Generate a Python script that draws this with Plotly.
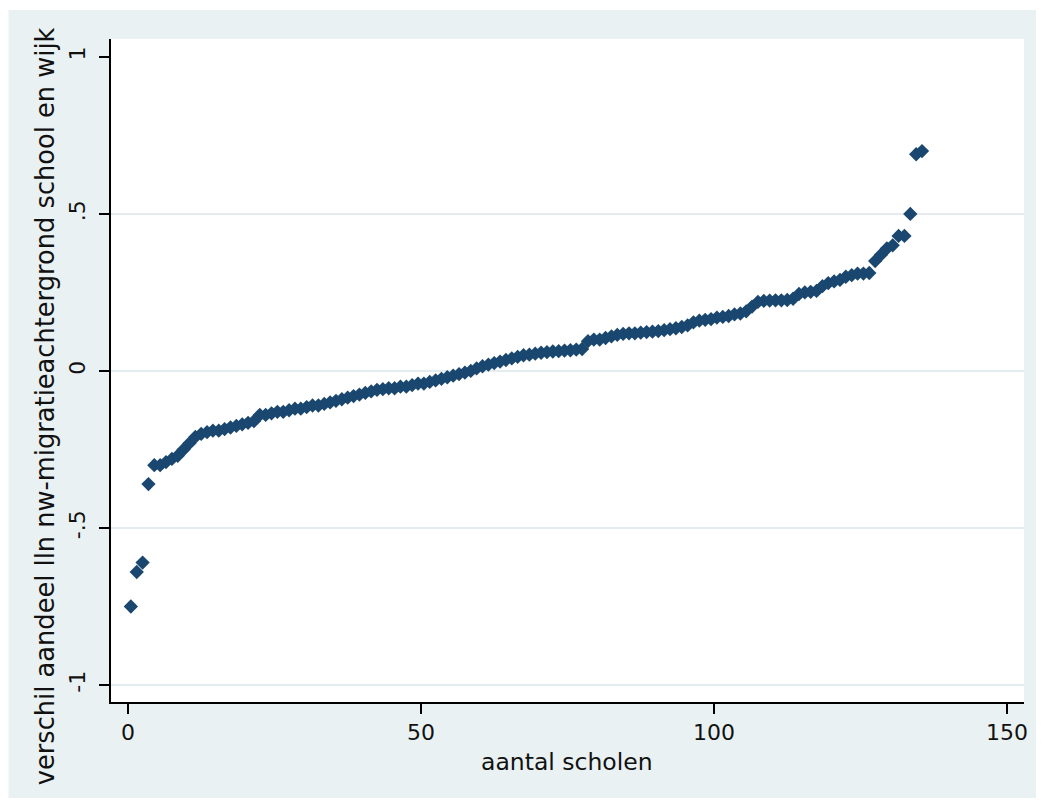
import plotly.graph_objects as go

# rank position of each school (x) and difference in share (y)
x_vals = [i + 0.5 for i in range(136)]
y_vals = [
    -0.75, -0.64, -0.61, -0.36, -0.30, -0.30, -0.29, -0.28, -0.27, -0.25,
    -0.23, -0.21, -0.20, -0.195, -0.19, -0.19, -0.185, -0.18, -0.175, -0.17,
    -0.165, -0.16, -0.14, -0.14, -0.135, -0.13, -0.13, -0.125, -0.12, -0.12,
    -0.115, -0.11, -0.11, -0.105, -0.10, -0.095, -0.09, -0.085, -0.08, -0.075,
    -0.07, -0.065, -0.06, -0.058, -0.055, -0.055, -0.05, -0.05, -0.045, -0.04,
    -0.04, -0.035, -0.03, -0.025, -0.02, -0.015, -0.01, -0.005, 0.0, 0.008,
    0.015, 0.02, 0.025, 0.03, 0.035, 0.04, 0.045, 0.05, 0.052, 0.055,
    0.058, 0.06, 0.062, 0.063, 0.065, 0.066, 0.068, 0.07, 0.095, 0.10,
    0.10, 0.105, 0.11, 0.115, 0.118, 0.12, 0.12, 0.122, 0.124, 0.125,
    0.127, 0.13, 0.133, 0.136, 0.14, 0.145, 0.155, 0.16, 0.163, 0.165,
    0.17, 0.172, 0.175, 0.18, 0.183, 0.19, 0.205, 0.22, 0.223, 0.224,
    0.225, 0.225, 0.226, 0.23, 0.245, 0.25, 0.252, 0.255, 0.27, 0.28,
    0.285, 0.29, 0.30, 0.305, 0.31, 0.31, 0.312, 0.35, 0.37, 0.39,
    0.40, 0.43, 0.43, 0.50, 0.69, 0.70,
]

x_ticks = [0, 50, 100, 150]
y_ticks = [-1, -0.5, 0, 0.5, 1]
y_ticktext = ["-1", "-.5", "0", ".5", "1"]
y_grid = [-1, -0.5, 0, 0.5]

x_title = "aantal scholen"
y_title = "verschil aandeel lln nw-migratieachtergrond school en wijk"

BG = "#EAF1F3"
GRID = "#E4ECEF"
NAVY = "#1A476F"
FONT = "DejaVu Sans, Arial, sans-serif"
TXT = "#111111"

fig = go.Figure()
fig.add_trace(go.Scatter(
    x=x_vals, y=y_vals, mode="markers",
    marker=dict(symbol="diamond", size=11, color=NAVY, line=dict(width=0)),
    showlegend=False,
))

shapes = [
    dict(type="rect", xref="paper", yref="paper",
         x0=-0.1123, x1=1.0131, y0=-0.1478, y1=1.0437,
         fillcolor=BG, line=dict(width=0), layer="below"),
    dict(type="rect", xref="paper", yref="paper",
         x0=0, x1=1, y0=0, y1=1,
         fillcolor="white", line=dict(width=0), layer="below"),
]
for g in y_grid:
    shapes.append(dict(type="line", xref="paper", yref="y",
                       x0=0, x1=1, y0=g, y1=g,
                       line=dict(color=GRID, width=2), layer="below"))

fig.update_layout(
    width=1028, height=790,
    margin=dict(l=103, r=8, t=31, b=96),
    paper_bgcolor="white", plot_bgcolor="white",
    font=dict(family=FONT, color=TXT),
    shapes=shapes,
    xaxis=dict(
        range=[-2.89, 152.9], tickvals=x_ticks, ticks="outside",
        ticklen=10, tickwidth=1.5, tickcolor="black",
        showline=True, linecolor="black", linewidth=1.5,
        showgrid=False, zeroline=False,
        tickfont=dict(size=22, family=FONT, color=TXT),
    ),
    yaxis=dict(
        range=[-1.054, 1.057], tickvals=y_ticks, ticktext=y_ticktext,
        ticks="outside", ticklen=10, tickwidth=1.5, tickcolor="black",
        showline=True, linecolor="black", linewidth=1.5,
        showgrid=False, zeroline=False, tickangle=-90,
        ticklabelstandoff=5,
        tickfont=dict(size=22, family=FONT, color=TXT),
    ),
    annotations=[
        dict(text=x_title, xref="paper", yref="paper", x=0.499, y=-0.0905,
             xanchor="center", yanchor="middle", showarrow=False,
             font=dict(size=23.5, family=FONT, color=TXT)),
        dict(text=y_title, xref="paper", yref="paper", x=-0.072, y=0.4465,
             xanchor="center", yanchor="middle", textangle=-90, showarrow=False,
             font=dict(size=25.7, family=FONT, color=TXT)),
    ],
)

fig.write_html("out.html")
